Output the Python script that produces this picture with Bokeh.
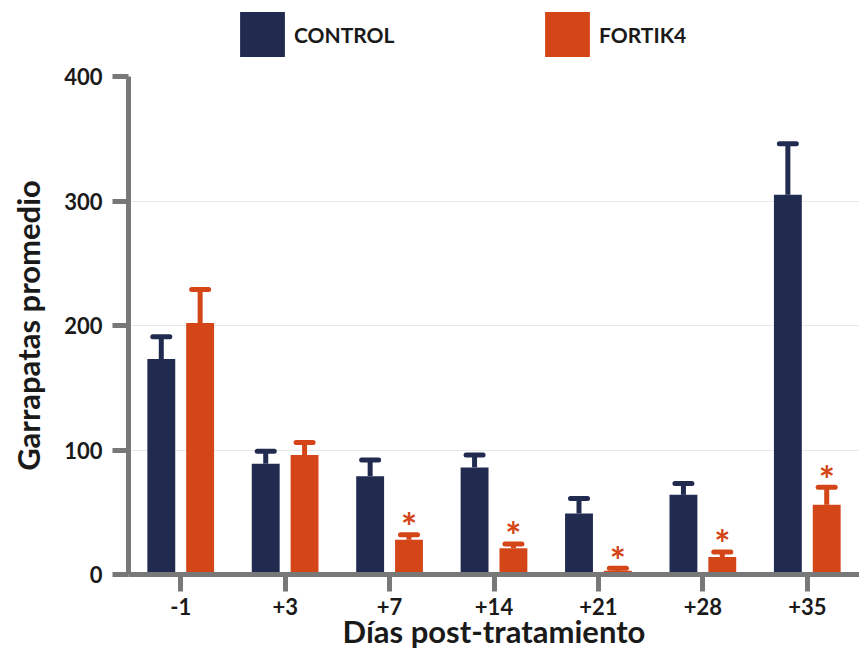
from bokeh.plotting import figure
from bokeh.layouts import column
from bokeh.models import (ColumnDataSource, FactorRange, Range1d, FixedTicker,
                          Whisker, TeeHead, Legend, LegendItem)
from bokeh.transform import dodge
from bokeh.core.properties import value
from bokeh.embed import file_html
from bokeh.resources import INLINE

# ---- data ----
days = ["-1", "+3", "+7", "+14", "+21", "+28", "+35"]
control_mean = [173, 89, 79, 86, 49, 64, 305]
control_err = [18, 10, 13, 10, 12, 9, 41]
fortik_mean = [202, 96, 28, 21, 3, 14, 56]
fortik_err = [27, 10, 4, 3.5, 2, 4, 14]
significant = [False, False, True, True, True, True, True]
series_names = ["CONTROL", "FORTIK4"]
y_ticks = [0, 100, 200, 300, 400]

NAVY = "#212a4f"
ORANGE = "#d44618"
AXIS = "#787878"
TEXT = "#1a1a1a"
FONT = "Lato"
colors = [NAVY, ORANGE]

src = ColumnDataSource(dict(
    day=days,
    c=control_mean,
    c_up=[m + e for m, e in zip(control_mean, control_err)],
    f=fortik_mean,
    f_up=[m + e for m, e in zip(fortik_mean, fortik_err)],
))

ast_days = [d for d, s in zip(days, significant) if s]
ast_y = [m + e + 7 for m, e, s in zip(fortik_mean, fortik_err, significant) if s]
ast_src = ColumnDataSource(dict(day=ast_days, y=ast_y))

# ---------------- legend strip ----------------
lf = figure(width=859, height=62, x_range=Range1d(0, 1), y_range=Range1d(0, 1),
            x_axis_type=None, y_axis_type=None, output_backend="svg",
            toolbar_location=None, min_border=0)
lf.outline_line_color = None
lf.xgrid.grid_line_color = None
lf.ygrid.grid_line_color = None
for name, col, xloc in [(series_names[0], colors[0], 106),
                        (series_names[1], colors[1], 411)]:
    # zero-height swatch renderer, only used to draw the legend key
    r = lf.vbar(x=[0.5], top=[0], bottom=[0], width=0.0, fill_color=col,
                line_color=None)
    leg = Legend(items=[LegendItem(label=name, renderers=[r])],
                 location=(xloc, 0), orientation="horizontal",
                 glyph_width=56, glyph_height=56, label_standoff=4,
                 padding=0, margin=0, border_line_color=None,
                 background_fill_alpha=0,
                 label_text_font=FONT, label_text_font_size="21px",
                 label_text_font_style="bold",
                 label_text_color=TEXT)
    lf.add_layout(leg)

# ---------------- main chart ----------------
p = figure(x_range=FactorRange(factors=days, range_padding=0),
           y_range=Range1d(0, 400),
           width=859, height=590, output_backend="svg", toolbar_location=None,
           min_border_left=128, min_border_right=0, min_border_top=14,
           min_border_bottom=78)

OFF = 0.186
BW = 0.267

p.vbar(x=dodge("day", -OFF, range=p.x_range), top="c", width=BW,
       source=src, fill_color=colors[0], line_color=None)
p.vbar(x=dodge("day", OFF, range=p.x_range), top="f", width=BW,
       source=src, fill_color=colors[1], line_color=None)

for off, lo, up, col in [(-OFF, "c", "c_up", colors[0]), (OFF, "f", "f_up", colors[1])]:
    w = Whisker(base=dodge("day", off, range=p.x_range), lower=lo, upper=up,
                source=src, line_color=col, line_width=5,
                upper_head=TeeHead(size=17, line_color=col, line_width=5,
                                   line_cap="round"),
                lower_head=None)
    p.add_layout(w)

p.text(x=dodge("day", OFF, range=p.x_range), y="y", text=value("*"),
       source=ast_src, text_font=value(FONT), text_font_style="bold",
       text_font_size="38px", text_color=colors[1], text_align="center",
       text_baseline="alphabetic")

p.outline_line_color = None
p.xgrid.grid_line_color = None
p.ygrid.ticker = FixedTicker(ticks=y_ticks)
p.ygrid.grid_line_color = "#e8e8e8"
p.ygrid.grid_line_width = 1

ya = p.yaxis[0]
ya.ticker = FixedTicker(ticks=y_ticks)
ya.axis_line_width = 5
ya.axis_line_color = AXIS
ya.major_tick_line_width = 5
ya.major_tick_line_color = AXIS
ya.major_tick_out = 16
ya.major_tick_in = 0
ya.minor_tick_line_color = None
ya.major_label_text_font = FONT
ya.major_label_text_font_size = "22px"
ya.major_label_text_font_style = "bold"
ya.major_label_text_color = TEXT
ya.major_label_standoff = 10
ya.axis_label = "Garrapatas promedio"
ya.axis_label_text_font = FONT
ya.axis_label_text_font_style = "bold"
ya.axis_label_text_font_size = "31px"
ya.axis_label_text_color = TEXT
ya.axis_label_standoff = 14

xa = p.xaxis[0]
xa.axis_line_width = 5
xa.axis_line_color = AXIS
xa.major_tick_line_width = 5
xa.major_tick_line_color = AXIS
xa.major_tick_out = 17
xa.major_tick_in = 0
xa.major_label_text_font = FONT
xa.major_label_text_font_size = "22px"
xa.major_label_text_font_style = "bold"
xa.major_label_text_color = TEXT
xa.major_label_standoff = 6
xa.axis_label = "Días post-tratamiento"
xa.axis_label_text_font = FONT
xa.axis_label_text_font_style = "bold"
xa.axis_label_text_font_size = "31px"
xa.axis_label_text_color = TEXT
xa.axis_label_standoff = -6

layout = column(lf, p, spacing=0)
open("out.html", "w").write(file_html(layout, INLINE))
